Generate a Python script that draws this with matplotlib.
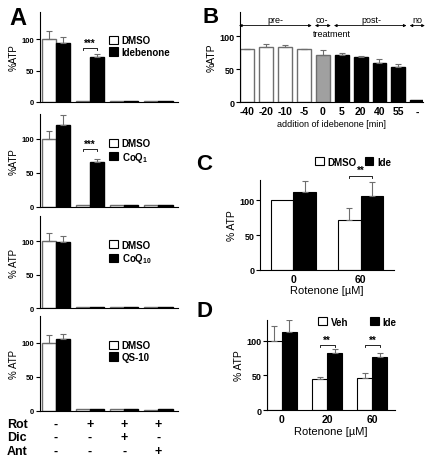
import matplotlib
matplotlib.use("Agg")
import matplotlib.pyplot as plt
from matplotlib.patches import Patch
import numpy as np

plt.rcParams["font.family"] = ["Liberation Sans", "DejaVu Sans"]
plt.rcParams["font.weight"] = "bold"
plt.rcParams["mathtext.default"] = "regular"

# ---- data -------------------------------------------------------------
# panel A: 4 conditions (ctrl, Rot, Rot+Dic, Rot+Ant)
dmso_ide = [100, 2, 2, 2]
dmso_ide_err = [12, 0, 0, 0]
idebenone = [93, 72, 2, 2]
idebenone_err = [10, 5, 0, 0]

dmso_coq1 = [100, 2, 2, 2]
dmso_coq1_err = [11, 0, 0, 0]
coq1 = [120, 65, 2, 2]
coq1_err = [15, 5, 0, 0]

dmso_coq10 = [101, 2, 2, 2]
dmso_coq10_err = [11, 0, 0, 0]
coq10 = [99.5, 2, 2, 2]
coq10_err = [9, 0, 0, 0]

dmso_qs10 = [100, 2, 2, 1.5]
dmso_qs10_err = [12, 0, 0, 0]
qs10 = [105, 2, 2, 2]
qs10_err = [8, 0, 0, 0]

rot = ["-", "+", "+", "+"]
dic = ["-", "-", "+", "-"]
ant = ["-", "-", "-", "+"]

# panel B: time of idebenone addition
b_labels = ["-40", "-20", "-10", "-5", "0", "5", "20", "40", "55", "-"]
b_vals = [80, 83, 83.5, 80, 72, 71, 68, 60, 53, 3]
b_err = [1, 5, 3, 1, 7, 3, 2, 5, 5, 0]

# panel C
c_groups = ["0", "60"]
c_dmso = [100, 72]
c_dmso_err = [0, 17]
c_ide = [112, 106]
c_ide_err = [16, 21]

# panel D
d_groups = ["0", "20", "60"]
d_veh = [100, 45, 46]
d_veh_err = [21, 2.5, 7]
d_ide = [113, 82, 77]
d_ide_err = [16, 6, 5]

fig = plt.figure(figsize=(4.3, 4.6), dpi=100)

ecol = "#6e6e6e"


def style(ax, ylim_top, fs=5.5):
    ax.spines["top"].set_visible(False)
    ax.spines["right"].set_visible(False)
    ax.set_ylim(0, ylim_top)
    ax.set_yticks([0, 50, 100])
    ax.tick_params(axis="y", length=3, width=0.8, labelsize=fs, pad=1)
    ax.tick_params(axis="x", length=0, labelsize=fs + 1, pad=3)


def up_err(ax, x, y, e, color):
    x = np.asarray(x, float)
    y = np.asarray(y, float)
    e = np.asarray(e, float)
    m = e > 0
    if m.any():
        ax.errorbar(x[m], y[m], yerr=[np.zeros(m.sum()), e[m]], fmt="none",
                    ecolor=color, elinewidth=0.8, capsize=2, capthick=0.8)


def bracket(ax, x1, x2, y, stars, fs=7):
    h = 3
    ax.plot([x1, x1, x2, x2], [y - h, y, y, y - h], color="k", lw=0.6, clip_on=False)
    ax.text((x1 + x2) / 2, y + 0.5, stars, ha="center", va="bottom", fontsize=fs, clip_on=False)


# ---- panel A ------------------------------------------------------------
a_sets = [
    (dmso_ide, dmso_ide_err, idebenone, idebenone_err, "Idebenone", "%ATP"),
    (dmso_coq1, dmso_coq1_err, coq1, coq1_err, "CoQ$_1$", "%ATP"),
    (dmso_coq10, dmso_coq10_err, coq10, coq10_err, "CoQ$_{10}$", "% ATP"),
    (dmso_qs10, dmso_qs10_err, qs10, qs10_err, "QS-10", "% ATP"),
]
a_pos = [(0.7761, 0.1957, 143), (0.5485, 0.2015, 136), (0.3276, 0.2013, 138), (0.105, 0.2065, 140)]
w = 0.41
xa = np.arange(4)
a_axes = []
for (dm, dme, dr, dre, name, ylab), (bot, hgt, top) in zip(a_sets, a_pos):
    ax = fig.add_axes([0.093, bot, 0.321, hgt])
    ax.bar(xa - w / 2, dm, w, color="white", edgecolor=ecol, linewidth=1)
    ax.bar(xa + w / 2, dr, w, color="black", edgecolor="black", linewidth=1)
    up_err(ax, xa - w / 2, dm, dme, ecol)
    up_err(ax, xa + w / 2, dr, dre, ecol)
    style(ax, top)
    ax.set_xlim(-0.46, 3.57)
    ax.set_xticks([])
    ax.set_ylabel(ylab, fontsize=7, labelpad=2)
    ax.legend(handles=[Patch(facecolor="white", edgecolor="black", lw=0.8, label="DMSO"),
                       Patch(facecolor="black", edgecolor="black", lw=0.8, label=name)],
              loc="upper left", bbox_to_anchor=(0.5, 0.74), frameon=False, fontsize=7,
              handlelength=0.9, handleheight=0.9, handletextpad=0.4, labelspacing=0.15,
              borderpad=0, borderaxespad=0)
    a_axes.append(ax)

bracket(a_axes[0], 1 - w / 2, 1 + w / 2, 86, "***")
bracket(a_axes[1], 1 - w / 2, 1 + w / 2, 85, "***")

# treatment table under panel A
ax4 = a_axes[3]
tr = matplotlib.transforms.blended_transform_factory(ax4.transData, fig.transFigure)
for name, signs, yy in [("Rot", rot, 0.076), ("Dic", dic, 0.048), ("Ant", ant, 0.018)]:
    fig.text(0.016, yy, name, fontsize=9, va="center", ha="left")
    for i, s in enumerate(signs):
        ax4.text(i, yy, s, transform=tr, fontsize=9, va="center", ha="center")

fig.text(0.023, 0.985, "A", fontsize=17, fontweight="bold", va="top")

# ---- panel B ------------------------------------------------------------
axb = fig.add_axes([0.5581, 0.7754, 0.4263, 0.197])
xb = np.arange(len(b_vals))
b_colors = ["white"] * 4 + ["#a0a0a0"] + ["black"] * 5
b_edges = [ecol] * 4 + ["#6e6e6e"] + ["black"] * 5
axb.bar(xb, b_vals, 0.74, color=b_colors, edgecolor=b_edges, linewidth=1)
up_err(axb, xb, b_vals, b_err, ecol)
style(axb, 137, fs=6.5)
axb.set_xlim(-0.39, 9.32)
axb.set_xticks(xb)
axb.set_xticklabels(b_labels)
axb.set_xlabel("addition of idebenone [min]", fontsize=6.5, labelpad=2)
axb.set_ylabel("%ATP", fontsize=7.5, labelpad=2)

# treatment arrows
for x1, x2, lab, xt in [(-0.44, 3.41, "pre-", 1.47), (3.58, 4.42, "co-", 3.94),
                        (4.59, 8.43, "post-", 6.58), (8.6, 9.4, "no", 9.0)]:
    axb.annotate("", xy=(x1, 116), xytext=(x2, 116),
                 arrowprops=dict(arrowstyle="<|-|>", color="black", lw=0.6,
                                 mutation_scale=4, shrinkA=0, shrinkB=0),
                 annotation_clip=False)
    axb.text(xt, 118, lab, ha="center", va="bottom", fontsize=6.5, fontweight="normal")
axb.text(4.47, 104.5, "treatment", ha="center", va="center", fontsize=6.5, fontweight="normal")

fig.text(0.47, 0.985, "B", fontsize=16, fontweight="bold", va="top")

# ---- panel C ------------------------------------------------------------
axc = fig.add_axes([0.6047, 0.4115, 0.3123, 0.1957])
wc = 0.333
xc = np.arange(len(c_groups))
axc.bar(xc - wc / 2, c_dmso, wc, color="white", edgecolor="black", linewidth=0.8)
axc.bar(xc + wc / 2, c_ide, wc, color="black", edgecolor="black", linewidth=0.8)
up_err(axc, xc - wc / 2, c_dmso, c_dmso_err, ecol)
up_err(axc, xc + wc / 2, c_ide, c_ide_err, ecol)
style(axc, 130, fs=6.5)
axc.set_xlim(-0.494, 1.5)
axc.set_xticks(xc)
axc.set_xticklabels(c_groups)
axc.set_xlabel("Rotenone [\u00b5M]", fontsize=8, labelpad=1)
axc.set_ylabel("% ATP", fontsize=7.5, labelpad=2)
bracket(axc, 1 - wc / 2, 1 + wc / 2, 136, "**")
axc.legend(handles=[Patch(facecolor="white", edgecolor="black", lw=0.8, label="DMSO"),
                    Patch(facecolor="black", edgecolor="black", lw=0.8, label="Ide")],
           loc="center left", bbox_to_anchor=(0.41, 1.2), ncol=2, frameon=False, fontsize=7,
           handlelength=0.9, handleheight=0.9, handletextpad=0.4, columnspacing=0.8,
           borderpad=0, borderaxespad=0)
fig.text(0.455, 0.665, "C", fontsize=16, fontweight="bold", va="top")

# ---- panel D ------------------------------------------------------------
axd = fig.add_axes([0.6216, 0.1065, 0.297, 0.1963])
wd = 0.33
xd = np.arange(len(d_groups))
axd.bar(xd - wd / 2, d_veh, wd, color="white", edgecolor="black", linewidth=0.8)
axd.bar(xd + wd / 2, d_ide, wd, color="black", edgecolor="black", linewidth=0.8)
up_err(axd, xd - wd / 2, d_veh, d_veh_err, ecol)
up_err(axd, xd + wd / 2, d_ide, d_ide_err, ecol)
style(axd, 130, fs=6.5)
axd.set_xlim(-0.32, 2.5)
axd.set_xticks(xd)
axd.set_xticklabels(d_groups)
axd.set_xlabel("Rotenone [\u00b5M]", fontsize=8, labelpad=1)
axd.set_ylabel("% ATP", fontsize=7.5, labelpad=2)
bracket(axd, 1 - wd / 2, 1 + wd / 2, 94, "**")
bracket(axd, 2 - wd / 2, 2 + wd / 2, 94, "**")
axd.legend(handles=[Patch(facecolor="white", edgecolor="black", lw=0.8, label="Veh"),
                    Patch(facecolor="black", edgecolor="black", lw=0.8, label="Ide")],
           loc="center left", bbox_to_anchor=(0.40, 0.98), ncol=2, frameon=False, fontsize=7,
           handlelength=0.9, handleheight=0.9, handletextpad=0.4, columnspacing=2.2,
           borderpad=0, borderaxespad=0)
fig.text(0.458, 0.345, "D", fontsize=16, fontweight="bold", va="top")

fig.savefig("out.png", dpi=100)
